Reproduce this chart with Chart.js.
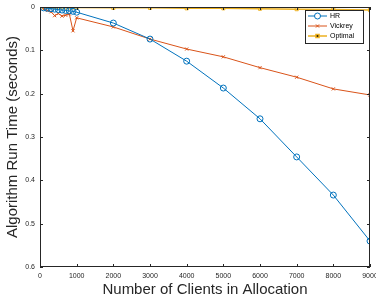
<!DOCTYPE html>
<html>
<head>
<meta charset="utf-8">
<script src="https://cdn.jsdelivr.net/npm/chart.js@4/dist/chart.umd.min.js"></script>
<style>
  html, body { margin: 0; padding: 0; background: #fff; }
  #wrap { width: 376px; height: 303px; }
</style>
</head>
<body>
<div id="wrap"><canvas id="chart"></canvas></div>
<script>
// Nombre de clients (axe X)
var clients = [100, 200, 300, 400, 500, 600, 700, 800, 900, 1000, 2000, 3000, 4000, 5000, 6000, 7000, 8000, 9000];

// Temps d'exécution (secondes)
var hrTimes = [0.002, 0.003, 0.004, 0.005, 0.006, 0.007, 0.008, 0.009, 0.010, 0.012, 0.037, 0.074, 0.125, 0.187, 0.258, 0.346, 0.434, 0.540];
var vickreyTimes = [0.005, 0.008, 0.011, 0.020, 0.015, 0.021, 0.019, 0.016, 0.055, 0.025, 0.046, 0.074, 0.097, 0.115, 0.140, 0.162, 0.189, 0.203];
var optimalTimes = [0.000, 0.000, 0.000, 0.000, 0.001, 0.001, 0.001, 0.001, 0.001, 0.001, 0.002, 0.002, 0.003, 0.003, 0.004, 0.005, 0.006, 0.007];

var xTicks = [0, 1000, 2000, 3000, 4000, 5000, 6000, 7000, 8000, 9000];
var yTicks = [0, 0.1, 0.2, 0.3, 0.4, 0.5, 0.6];

var seriesNames = ['HR', 'Vickrey', 'Optimal'];
var colors = ['#0072BD', '#D95319', '#EDB120'];
var markers = ['circle', 'crossRot', 'rect'];

function toPoints(ys) {
  return clients.map(function (c, i) { return { x: c, y: ys[i] }; });
}

var allSeries = [hrTimes, vickreyTimes, optimalTimes];
var datasets = allSeries.map(function (ys, i) {
  return {
    label: seriesNames[i],
    data: toPoints(ys),
    borderColor: colors[i],
    backgroundColor: 'rgba(0,0,0,0)',
    borderWidth: i === 2 ? 1.5 : 1,
    pointStyle: markers[i],
    pointRadius: i === 0 ? 3 : 2.2,
    pointBorderWidth: 1,
    pointBorderColor: colors[i],
    pointBackgroundColor: 'rgba(0,0,0,0)',
    tension: 0
  };
});

// Cadre + graduations intérieures + légende (style MATLAB)
var matlabFrame = {
  id: 'matlabFrame',
  afterDatasetsDraw: function (chart) {
    var ctx = chart.ctx;
    var a = chart.chartArea;
    var xs = chart.scales.x, ys = chart.scales.y;
    ctx.save();
    ctx.strokeStyle = '#262626';
    ctx.lineWidth = 1;
    ctx.strokeRect(a.left + 0.5, a.top + 0.5, a.right - a.left - 1, a.bottom - a.top - 1);
    ctx.beginPath();
    xTicks.forEach(function (t) {
      var px = Math.round(xs.getPixelForValue(t)) + 0.5;
      ctx.moveTo(px, a.bottom); ctx.lineTo(px, a.bottom - 3);
      ctx.moveTo(px, a.top); ctx.lineTo(px, a.top + 3);
    });
    yTicks.forEach(function (t) {
      var py = Math.round(ys.getPixelForValue(t)) + 0.5;
      ctx.moveTo(a.left, py); ctx.lineTo(a.left + 3, py);
      ctx.moveTo(a.right, py); ctx.lineTo(a.right - 3, py);
    });
    ctx.stroke();

    // légende
    var lx = 305, ly = 10, lw = 58, lh = 33;
    ctx.fillStyle = '#fff';
    ctx.fillRect(lx, ly, lw, lh);
    ctx.strokeStyle = '#262626';
    ctx.strokeRect(lx + 0.5, ly + 0.5, lw, lh);
    ctx.font = '7px "Liberation Sans", Arial, sans-serif';
    ctx.textBaseline = 'middle';
    chart.data.datasets.forEach(function (ds, i) {
      var yy = ly + 6 + i * 10;
      ctx.strokeStyle = ds.borderColor;
      ctx.lineWidth = ds.borderWidth;
      ctx.beginPath();
      ctx.moveTo(lx + 3, yy); ctx.lineTo(lx + 22, yy);
      ctx.stroke();
      Chart.helpers.drawPoint(ctx, { pointStyle: ds.pointStyle, radius: ds.pointRadius, borderWidth: 1 }, lx + 12.5, yy);
      ctx.fillStyle = '#000';
      ctx.fillText(ds.label, lx + 25, yy + 0.5);
    });
    ctx.restore();
  }
};

var tickFont = { family: '"Liberation Sans", Arial, sans-serif', size: 7 };
var titleFont = { family: '"Liberation Sans", Arial, sans-serif', size: 15 };

function plain(v) { return String(v); }

new Chart(document.getElementById('chart'), {
  type: 'line',
  data: { datasets: datasets },
  plugins: [matlabFrame],
  options: {
    responsive: true,
    maintainAspectRatio: false,
    animation: false,
    layout: { padding: { top: 7, right: 6, left: 0, bottom: 0 } },
    plugins: { legend: { display: false }, tooltip: { enabled: false } },
    scales: {
      x: {
        type: 'linear',
        min: 0, max: 9000,
        afterBuildTicks: function (s) { s.ticks = xTicks.map(function (v) { return { value: v }; }); },
        afterFit: function (s) { s.height = 36; s.paddingLeft = 0; s.paddingRight = 0; },
        grid: { display: false, drawTicks: false },
        border: { display: false },
        ticks: { font: tickFont, color: '#262626', padding: 5, maxRotation: 0, callback: plain },
        title: { display: true, text: 'Number of Clients in Allocation', font: titleFont, color: '#262626', padding: { top: 2 } }
      },
      y: {
        type: 'linear',
        reverse: true,
        min: 0, max: 0.6,
        afterBuildTicks: function (s) { s.ticks = yTicks.map(function (v) { return { value: v }; }); },
        afterFit: function (s) { s.width = 40; s.paddingTop = 0; s.paddingBottom = 0; },
        grid: { display: false, drawTicks: false },
        border: { display: false },
        ticks: { font: tickFont, color: '#262626', padding: 5, callback: plain },
        title: { display: true, text: 'Algorithm Run Time (seconds)', font: titleFont, color: '#262626', padding: { bottom: 0 } }
      }
    }
  }
});
</script>
</body>
</html>
